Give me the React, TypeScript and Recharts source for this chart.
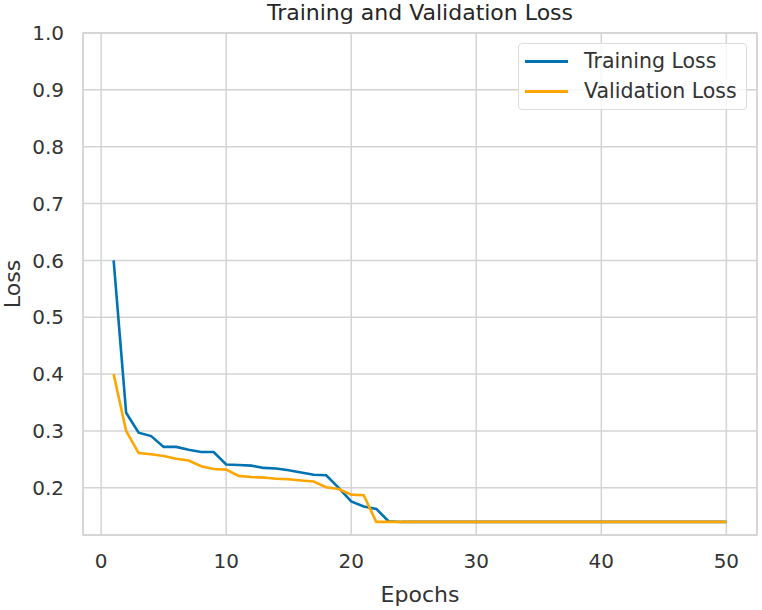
import { LineChart, Line, XAxis, YAxis, CartesianGrid, ReferenceArea, Legend, Label } from 'recharts';

const epochs = [
  1, 2, 3, 4, 5, 6, 7, 8, 9, 10, 11, 12, 13, 14, 15, 16, 17, 18, 19, 20, 21, 22, 23, 24, 25,
  26, 27, 28, 29, 30, 31, 32, 33, 34, 35, 36, 37, 38, 39, 40, 41, 42, 43, 44, 45, 46, 47, 48, 49, 50,
];

const trainingLoss = [
  0.6, 0.332, 0.297, 0.291, 0.272, 0.272, 0.267, 0.263, 0.263, 0.241, 0.24, 0.239, 0.235, 0.234, 0.231,
  0.227, 0.223, 0.222, 0.2, 0.176, 0.167, 0.163, 0.141, 0.14, 0.14, 0.14, 0.14, 0.14, 0.14, 0.14,
  0.14, 0.14, 0.14, 0.14, 0.14, 0.14, 0.14, 0.14, 0.14, 0.14, 0.14, 0.14, 0.14, 0.14, 0.14,
  0.14, 0.14, 0.14, 0.14, 0.14,
];

const validationLoss = [
  0.4, 0.3, 0.261, 0.259, 0.256, 0.251, 0.248, 0.238, 0.233, 0.232, 0.221, 0.219, 0.218, 0.216, 0.215,
  0.213, 0.211, 0.201, 0.198, 0.188, 0.187, 0.14, 0.14, 0.14, 0.14, 0.14, 0.14, 0.14, 0.14, 0.14,
  0.14, 0.14, 0.14, 0.14, 0.14, 0.14, 0.14, 0.14, 0.14, 0.14, 0.14, 0.14, 0.14, 0.14, 0.14,
  0.14, 0.14, 0.14, 0.14, 0.14,
];

const xTicks = [0, 10, 20, 30, 40, 50];
const yTicks = [0.2, 0.3, 0.4, 0.5, 0.6, 0.7, 0.8, 0.9, 1.0];

const data = epochs.map((epoch, i) => ({
  epoch,
  train: trainingLoss[i],
  val: validationLoss[i],
}));

const font = 'DejaVu Sans';
const textColor = '#333333';
const gridColor = '#d4d4d4';
const blue = '#0173B2';
const orange = '#FFA500';

const xDomain: [number, number] = [-1.45, 52.45];
const yDomain: [number, number] = [0.117, 1.0];

// Legend box like matplotlib's upper-right frame
const renderLegend = () => (
  <div
    style={{
      position: 'relative',
      width: 227,
      height: 65,
      border: '1px solid #dddddd',
      borderRadius: 4,
      background: 'rgba(255,255,255,0.8)',
      fontFamily: font,
      fontSize: 20.5,
      color: textColor,
    }}
  >
    {[
      { name: 'Training Loss', color: blue },
      { name: 'Validation Loss', color: orange },
    ].map((item, i) => (
      <div key={item.name} style={{ position: 'absolute', left: 6, top: 5 + i * 30, height: 24, display: 'flex', alignItems: 'center' }}>
        <span style={{ display: 'inline-block', width: 43, height: 3, background: item.color }} />
        <span style={{ marginLeft: 16, whiteSpace: 'nowrap' }}>{item.name}</span>
      </div>
    ))}
  </div>
);

export default function App() {
  return (
    <div style={{ position: 'absolute', left: 0, top: 0, width: 762, height: 610, background: '#fff' }}>
      <div
        style={{
          position: 'absolute',
          left: 83,
          width: 674,
          top: 2,
          lineHeight: '22px',
          fontSize: 22,
          fontFamily: font,
          color: '#262626',
          textAlign: 'center',
          whiteSpace: 'nowrap',
        }}
      >
        Training and Validation Loss
      </div>
      <LineChart width={762} height={610} data={data} margin={{ top: 33, right: 5, left: 0, bottom: 0 }}>
        <CartesianGrid stroke={gridColor} strokeWidth={1.5} />
        <XAxis
          dataKey="epoch"
          type="number"
          domain={xDomain}
          ticks={xTicks}
          allowDataOverflow
          height={75}
          axisLine={false}
          tickLine={false}
          tickSize={0}
          tickMargin={19}
          tick={{ fontSize: 20, fontFamily: font, fill: textColor }}
        >
          <Label value="Epochs" position="insideBottom" offset={8} style={{ fontSize: 22, fontFamily: font, fill: textColor }} />
        </XAxis>
        <YAxis
          type="number"
          domain={yDomain}
          ticks={yTicks}
          allowDataOverflow
          width={83}
          axisLine={false}
          tickLine={false}
          tickSize={0}
          tickMargin={19}
          tickFormatter={(v: number) => v.toFixed(1)}
          tick={{ fontSize: 20, fontFamily: font, fill: textColor }}
        >
          <Label
            content={(props: any) => {
              const vb = props.viewBox || { x: 0, y: 33, width: 83, height: 502 };
              const x = vb.x + 20;
              const y = vb.y + vb.height / 2;
              return (
                <text
                  x={x}
                  y={y}
                  transform={`rotate(-90 ${x} ${y})`}
                  textAnchor="middle"
                  style={{ fontSize: 22, fontFamily: font, fill: textColor }}
                >
                  Loss
                </text>
              );
            }}
          />
        </YAxis>
        <ReferenceArea
          x1={xDomain[0]}
          x2={xDomain[1]}
          y1={yDomain[0]}
          y2={yDomain[1]}
          fill="none"
          stroke={gridColor}
          strokeWidth={1.5}
          ifOverflow="extendDomain"
        />
        <Line
          type="linear"
          dataKey="train"
          name="Training Loss"
          stroke={blue}
          strokeWidth={2.6}
          dot={false}
          isAnimationActive={false}
        />
        <Line
          type="linear"
          dataKey="val"
          name="Validation Loss"
          stroke={orange}
          strokeWidth={2.6}
          dot={false}
          isAnimationActive={false}
        />
        <Legend
          layout="horizontal"
          verticalAlign="middle"
          align="center"
          content={renderLegend}
          wrapperStyle={{ position: 'absolute', left: 518, top: 43, width: 229, height: 67 }}
        />
      </LineChart>
    </div>
  );
}
